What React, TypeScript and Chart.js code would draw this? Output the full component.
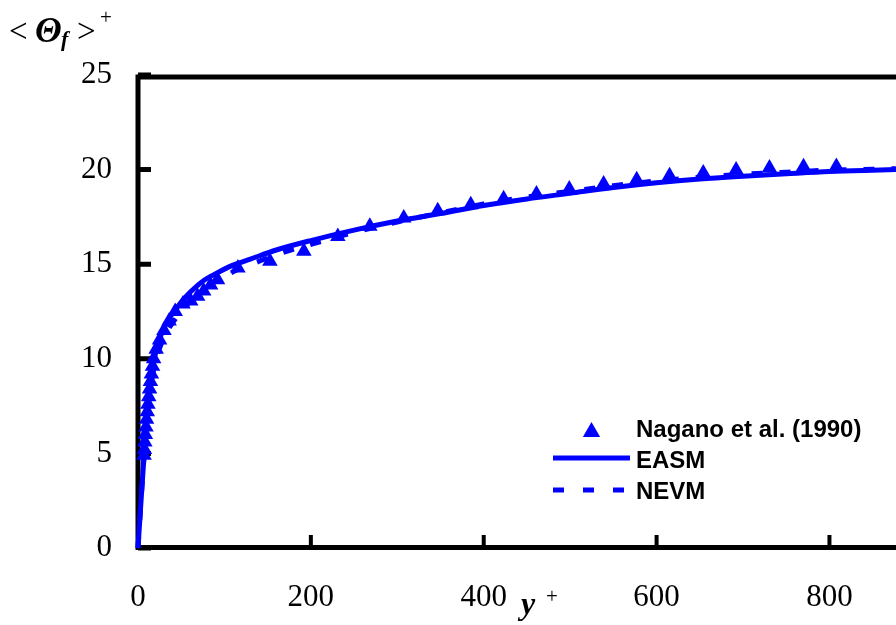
import React, { useEffect, useRef } from 'react';
import { Chart, registerables } from 'chart.js';

Chart.register(...registerables);

// ---- data ----
const naganoYPlus = [7.0, 7.4, 7.9, 8.5, 9.2, 9.9, 10.7, 11.5, 12.4, 13.4, 14.4, 15.5, 16.8, 18.1, 21, 25, 30, 36, 43, 52, 61, 69, 76, 84, 92, 115.6, 152.6, 191.9, 231.2, 268.2, 307.5, 346.8, 385, 423, 461, 499, 538.7, 577, 615, 654, 692, 730.6, 770, 808];
const naganoTheta = [4.9, 5.2, 5.6, 6.0, 6.4, 6.8, 7.2, 7.6, 8.0, 8.4, 8.8, 9.2, 9.6, 10.0, 10.5, 11.0, 11.5, 12.0, 12.5, 12.9, 13.05, 13.3, 13.58, 13.9, 14.18, 14.8, 15.15, 15.68, 16.47, 17.0, 17.44, 17.83, 18.14, 18.46, 18.71, 18.97, 19.24, 19.47, 19.68, 19.82, 19.98, 20.08, 20.15, 20.17];

const easmYPlus = [0, 2, 4, 6, 8, 10, 12, 15, 18, 22, 27, 33, 40, 50, 60, 75, 90, 110, 130, 160, 200, 250, 300, 350, 400, 450, 500, 550, 600, 650, 700, 750, 800, 850, 877];
const easmTheta = [0, 1.42, 2.84, 4.2, 5.5, 6.7, 7.7, 8.9, 9.8, 10.6, 11.3, 11.9, 12.4, 13.0, 13.5, 14.1, 14.5, 14.95, 15.27, 15.75, 16.25, 16.8, 17.28, 17.68, 18.1, 18.45, 18.75, 19.05, 19.3, 19.5, 19.65, 19.78, 19.9, 19.97, 20.0];

const nevmYPlus = [0, 2, 4, 6, 8, 10, 12, 15, 18, 22, 27, 33, 40, 50, 60, 75, 90, 110, 130, 160, 200, 250, 300, 350, 400, 450, 500, 550, 600, 650, 700, 750, 800, 850, 877];
const nevmTheta = [0, 1.42, 2.84, 4.2, 5.45, 6.6, 7.5, 8.6, 9.4, 10.15, 10.8, 11.4, 11.9, 12.5, 13.0, 13.65, 14.1, 14.6, 14.97, 15.5, 16.05, 16.68, 17.23, 17.71, 18.18, 18.55, 18.85, 19.15, 19.4, 19.6, 19.75, 19.86, 19.97, 20.02, 20.05];

const xTickValues = [0, 200, 400, 600, 800];
const yTickValues = [0, 5, 10, 15, 20, 25];
const seriesLabels = ['Nagano et al. (1990)', 'EASM', 'NEVM'];

const BLUE = '#0000FF';
const SERIF = '"Liberation Serif", "Times New Roman", serif';
const SANS = '"Liberation Sans", Arial, sans-serif';

const zip = (xs: number[], ys: number[]) => xs.map((x, i) => ({ x, y: ys[i] }));

const framePlugin = {
  id: 'frameTicks',
  beforeDatasetsDraw(chart: any) {
    const { ctx, chartArea: a, scales } = chart;
    ctx.save();
    ctx.strokeStyle = '#000';
    ctx.lineCap = 'butt';
    ctx.lineWidth = 5;
    ctx.beginPath();
    ctx.moveTo(a.left - 2.5, a.top + 2);
    ctx.lineTo(a.right, a.top + 2);
    ctx.moveTo(a.left, a.top - 0.5);
    ctx.lineTo(a.left, a.bottom + 2);
    ctx.moveTo(a.left - 2.5, a.bottom - 0.5);
    ctx.lineTo(a.right, a.bottom - 0.5);
    ctx.stroke();
    ctx.lineWidth = 4;
    ctx.beginPath();
    xTickValues.forEach((v) => {
      const px = scales.x.getPixelForValue(v);
      ctx.moveTo(px, a.bottom);
      ctx.lineTo(px, a.bottom - 13);
    });
    ctx.stroke();
    ctx.lineWidth = 5;
    ctx.beginPath();
    yTickValues.forEach((v) => {
      const py = scales.y.getPixelForValue(v);
      ctx.moveTo(a.left, py);
      ctx.lineTo(a.left + 13, py);
    });
    ctx.stroke();
    ctx.restore();
  },
  afterDraw(chart: any) {
    const { ctx } = chart;
    ctx.save();
    ctx.fillStyle = '#000';
    ctx.textBaseline = 'alphabetic';
    ctx.textAlign = 'left';
    // y-axis title <Θf>+
    ctx.font = `33px ${SERIF}`;
    ctx.fillText('<', 9, 42);
    ctx.font = `italic bold 35px ${SERIF}`;
    ctx.fillText('Θ', 35, 42);
    ctx.font = `italic bold 22px ${SERIF}`;
    ctx.fillText('f', 61, 46);
    ctx.font = `33px ${SERIF}`;
    ctx.fillText('>', 77, 42);
    ctx.font = `21px ${SERIF}`;
    ctx.fillText('+', 100, 24);
    // x-axis title y+
    ctx.font = `italic bold 32px ${SERIF}`;
    ctx.fillText('y', 521, 614);
    ctx.font = `21px ${SERIF}`;
    ctx.fillText('+', 546, 603);

    // legend
    const tx = 636;
    const cx = 591.5, cy = 432, r = 10;
    ctx.fillStyle = BLUE;
    ctx.beginPath();
    ctx.moveTo(cx, cy - r);
    ctx.lineTo(cx + r * Math.sin((2 * Math.PI) / 3), cy + r * 0.5);
    ctx.lineTo(cx - r * Math.sin((2 * Math.PI) / 3), cy + r * 0.5);
    ctx.closePath();
    ctx.fill();
    ctx.strokeStyle = BLUE;
    ctx.lineWidth = 5;
    ctx.beginPath();
    ctx.moveTo(553, 458);
    ctx.lineTo(630, 458);
    ctx.stroke();
    ctx.setLineDash([11, 19]);
    ctx.beginPath();
    ctx.moveTo(553, 490);
    ctx.lineTo(630, 490);
    ctx.stroke();
    ctx.setLineDash([]);
    ctx.fillStyle = '#000';
    ctx.font = `bold 24px ${SANS}`;
    ctx.fillText(seriesLabels[0], tx, 437);
    ctx.fillText(seriesLabels[1], tx, 468);
    ctx.fillText(seriesLabels[2], tx, 499);
    ctx.restore();
  },
};

export default function App() {
  const canvasRef = useRef<HTMLCanvasElement | null>(null);

  useEffect(() => {
    if (!canvasRef.current) return;
    const chart = new Chart(canvasRef.current, {
      type: 'scatter',
      data: {
        datasets: [
          {
            label: seriesLabels[0],
            data: zip(naganoYPlus, naganoTheta),
            showLine: false,
            pointStyle: 'triangle',
            pointRadius: 9,
            pointHoverRadius: 9,
            backgroundColor: BLUE,
            borderColor: BLUE,
            borderWidth: 0,
            clip: false,
          } as any,
          {
            label: seriesLabels[1],
            data: zip(easmYPlus, easmTheta),
            showLine: true,
            pointRadius: 0,
            borderColor: BLUE,
            borderWidth: 5,
            cubicInterpolationMode: 'monotone',
            clip: false,
          } as any,
          {
            label: seriesLabels[2],
            data: zip(nevmYPlus, nevmTheta),
            showLine: true,
            pointRadius: 0,
            borderColor: BLUE,
            borderWidth: 5,
            borderDash: [11, 17],
            cubicInterpolationMode: 'monotone',
            clip: false,
          } as any,
        ],
      },
      options: {
        responsive: false,
        animation: false,
        events: [],
        layout: { autoPadding: false, padding: { top: 75, left: 0, right: 0, bottom: 0 } },
        plugins: { legend: { display: false }, tooltip: { enabled: false } },
        scales: {
          x: {
            type: 'linear',
            min: 0,
            max: 877,
            afterFit: (s: any) => { s.height = 77; s.paddingLeft = 0; s.paddingRight = 0; },
            afterBuildTicks: (s: any) => { s.ticks = xTickValues.map((v) => ({ value: v })); },
            grid: { display: false, drawTicks: false },
            border: { display: false },
            ticks: {
              font: { family: SERIF, size: 31 },
              color: '#000',
              padding: 31,
              maxRotation: 0,
              autoSkip: false,
            },
          },
          y: {
            type: 'linear',
            min: 0,
            max: 25,
            afterFit: (s: any) => { s.width = 138; s.paddingTop = 0; s.paddingBottom = 0; },
            afterBuildTicks: (s: any) => { s.ticks = yTickValues.map((v) => ({ value: v })); },
            grid: { display: false, drawTicks: false },
            border: { display: false },
            ticks: {
              font: { family: SERIF, size: 31 },
              color: '#000',
              padding: 26,
              autoSkip: false,
            },
          },
        },
      } as any,
      plugins: [framePlugin],
    });
    return () => chart.destroy();
  }, []);

  return (
    <div style={{ position: 'fixed', left: 0, top: 0, width: 896, height: 625, background: '#fff' }}>
      <canvas ref={canvasRef} width={896} height={625} style={{ display: 'block' }} />
    </div>
  );
}
